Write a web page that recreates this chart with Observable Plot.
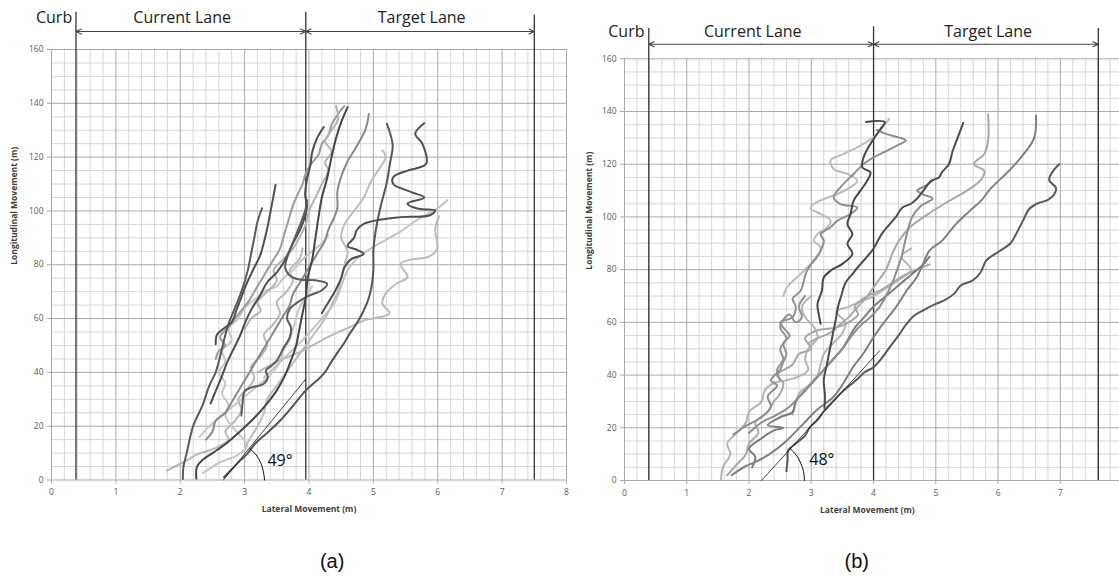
<!DOCTYPE html>
<html><head><meta charset="utf-8">
<script src="https://cdn.jsdelivr.net/npm/d3@7"></script>
<script src="https://cdn.jsdelivr.net/npm/@observablehq/plot@0.6"></script>
<style>
body{margin:0;background:#fff;width:1119px;height:587px;overflow:hidden;font-family:"Open Sans",sans-serif}
#wrap{position:relative;width:1119px;height:587px}
#pa,#pb{position:absolute;top:0}
#pa{left:0}#pb{left:560px}
</style></head><body><div id="wrap"><div id="pa"></div><div id="pb"></div></div>
<script>
// ---------- tick labels ----------
const xTicksA = [0,1,2,3,4,5,6,7,8];
const xTicksB = [0,1,2,3,4,5,6,7];
const yTicks = [0,20,40,60,80,100,120,140,160];
const laneTitles = ["Curb","Current Lane","Target Lane"];
const angleA = "49°", angleB = "48°";
const xTitle = "Lateral Movement (m)", yTitle = "Longitudinal Movement (m)";

// lane boundary positions (m)
const lanesA = [0.38, 3.95, 7.5];
const lanesB = [0.39, 4.0, 7.61];

// ---------- panel (a) trajectories ----------
const a01 = [[2.04,0.4],[2.05,5],[2.1,10],[2.2,20],[2.35,28],[2.45,35],[2.55,40],[2.62,46],[2.68,52],[2.75,58],[2.85,64],[2.95,70],[3.05,78],[3.1,84],[3.15,90],[3.2,96],[3.27,101]];
const a02 = [[2.55,50.5],[2.57,54],[2.66,56],[2.8,58.7],[2.88,63.6],[2.96,68.6],[3.04,73.5],[3.14,78.5],[3.24,83.4],[3.3,88.4],[3.35,93.4],[3.4,99.5],[3.45,105.8],[3.48,109.7]];
const a03 = [[2.25,0.5],[2.26,5],[2.35,7.5],[2.5,10],[2.71,13.5],[2.95,18.5],[3.16,23.3],[3.35,28.5],[3.5,33.3],[3.62,38.5],[3.72,44.4],[3.8,50],[3.85,56],[3.9,62],[3.95,68],[3.98,75],[4.05,82],[4.1,90],[4.15,98],[4.2,105],[4.28,112],[4.35,120],[4.42,127],[4.5,133],[4.6,138.6]];
const a04 = [[2.47,28.4],[2.55,33],[2.65,38.8],[2.73,43.8],[2.83,48.8],[2.93,53.7],[3.01,58.7],[3.11,63.6],[3.24,68.6],[3.35,73.5],[3.5,77.2],[3.61,81],[3.76,88.4],[3.87,93.4],[3.94,98.3],[3.97,102],[3.94,105.8],[3.97,112],[4.02,116.9],[4.05,121.9],[4.12,126.8],[4.23,131.2]];
const a05 = [[2.95,24],[2.97,29],[3.0,33],[3.12,34.5],[3.28,35.5],[3.36,38.2],[3.33,40.7],[3.42,42.5],[3.5,44.4],[3.61,49.3],[3.7,53],[3.72,56.7],[3.66,60],[3.7,63.5],[3.82,66],[4.0,68.5],[4.2,70.5],[4.28,73],[4.1,74.2],[3.85,74.5],[3.7,76],[3.63,79],[3.68,84],[3.78,90],[3.88,96],[3.95,101],[3.97,104]];
const a06 = [[2.4,15],[2.5,18],[2.55,22],[2.7,25],[2.8,29],[2.9,33],[3.0,37],[3.1,41],[3.2,45],[3.3,49],[3.4,53],[3.5,57],[3.6,61],[3.7,65],[3.75,69],[3.85,73],[3.95,77],[4.05,81],[4.15,85],[4.25,89],[4.3,93],[4.38,97],[4.44,101],[4.44,107],[4.49,112],[4.59,118],[4.75,124.4],[4.88,130.5],[4.93,136]];
const a07 = [[2.68,1],[2.8,4],[2.93,7.2],[3.05,10],[3.16,13.4],[3.35,17.5],[3.55,22],[3.75,27.5],[3.95,33.3],[4.1,36.5],[4.23,39.5],[4.35,44],[4.46,48],[4.55,51],[4.63,54.3],[4.75,58.5],[4.85,63],[4.92,67],[4.97,71.7],[5.0,78],[5.0,85.3],[5.02,90],[5.06,95.9],[5.13,103.3],[5.21,110.7],[5.26,118],[5.3,124.4],[5.21,132.4]];
const a08 = [[4.2,62],[4.3,66],[4.4,70],[4.5,75],[4.55,79],[4.65,82],[4.85,84],[4.75,85.5],[4.6,87],[4.7,90],[4.74,92.8],[4.85,95.2],[5.42,97.7],[5.87,98.3],[5.96,100.2],[5.7,100.8],[5.53,102.7],[5.79,105],[5.59,107],[5.31,110],[5.31,112.6],[5.53,115],[5.82,117.5],[5.76,125],[5.65,128.7],[5.79,132.6]];
const a09 = [[3.2,40],[3.5,44],[3.9,48],[4.29,53.1],[4.63,56.8],[4.85,59.3],[5.25,61.9],[5.14,65.6],[5.19,69.3],[5.36,73],[5.53,75.4],[5.42,80.4],[5.6,82],[5.86,83],[5.99,86],[5.96,93.4],[6.02,98]];
const a10 = [[3.3,38],[3.6,45],[3.9,52],[4.2,60],[4.4,66],[4.5,72],[4.6,78],[4.8,83.4],[5.1,88],[5.4,92],[5.7,97],[6.0,101],[6.15,104]];
const a11 = [[3.0,12],[3.1,16],[3.2,20],[3.3,25],[3.35,30],[3.5,35],[3.65,40],[3.8,45],[3.95,50],[4.1,55],[4.25,60],[4.35,65],[4.45,70],[4.5,75],[4.55,80],[4.6,85],[4.5,90],[4.55,95],[4.7,100],[4.85,105],[4.97,111.3],[5.1,116],[5.19,120],[5.14,122.5]];
const a12 = [[1.79,3.5],[2.05,6.6],[2.28,9.7],[2.45,11],[2.6,12.5],[2.75,15],[2.7,18],[2.85,22],[2.95,26],[2.9,30],[3.05,34],[3.15,38],[3.1,42],[3.25,46],[3.35,50],[3.3,54],[3.45,58],[3.55,62],[3.5,66],[3.65,70],[3.75,74],[3.7,78],[3.85,82],[3.9,86]];
const a13 = [[2.35,2.5],[2.62,6.6],[2.88,9.1],[3.04,12.8],[2.95,16],[2.8,20],[2.7,24],[2.75,28],[2.65,32],[2.7,36],[2.6,40],[2.7,44],[2.65,48],[2.8,52],[2.75,56],[2.9,60],[3.0,64],[3.15,67],[3.3,70],[3.5,72],[3.6,75],[3.75,78],[3.9,82],[4.05,85],[4.2,88],[4.3,91]];
const a14 = [[2.55,45],[2.6,48],[2.7,50],[2.62,53],[2.75,57],[2.85,60],[2.95,63],[3.05,66],[3.15,70],[3.25,74],[3.35,78],[3.45,82],[3.55,86],[3.6,90],[3.65,94],[3.7,98],[3.75,102],[3.82,106],[3.9,110],[3.95,114],[4.05,118],[4.15,121],[4.2,125],[4.3,128],[4.35,132],[4.45,136],[4.55,139]];
const a15 = [[3.0,56],[3.1,60],[3.25,63],[3.2,66],[3.35,70],[3.5,74],[3.45,78],[3.6,82],[3.75,86],[3.85,90],[3.95,95],[4.0,100],[4.1,105],[4.2,110],[4.3,115],[4.25,118],[4.35,122],[4.25,126],[4.35,130],[4.45,134],[4.42,139]];
const a16 = [[2.3,16],[2.45,20],[2.6,23],[2.8,27],[3.0,31],[3.2,35],[3.4,39],[3.55,44],[3.6,48],[3.7,52],[3.75,56],[3.8,60],[3.85,64],[3.95,68],[4.05,72]];
const curvesA = [a12,a13,a16,a10,a11,a09,a14,a15,a06,a02,a01,a04,a05,a03,a07,a08];
const shadesA = ["#b8b8b8","#c6c6c6","#c8c8c8","#c4c4c4","#bdbdbd","#bbbbbb","#9c9c9c","#b4b4b4","#8a8a8a","#505050","#5a5a5a","#4d4d4d","#5c5c5c","#454545","#555555","#505050"];

// ---------- panel (b) trajectories ----------
const b01 = [[2.6,3.5],[2.62,8],[2.63,11.5],[2.75,14],[2.9,17],[2.97,20],[3.1,23],[3.21,26.6],[3.35,30],[3.51,34],[3.72,38],[3.85,41],[4.0,43],[4.15,47],[4.26,50.6],[4.4,55],[4.53,59.4],[4.65,62.5],[4.79,64.5],[5.0,67],[5.15,68.5],[5.3,71],[5.4,74],[5.6,76],[5.72,79],[5.81,83.5],[6.02,87],[6.2,90],[6.3,94],[6.4,98.6],[6.5,103],[6.62,105],[6.8,106.5],[6.9,108.5],[6.93,111],[6.82,114],[6.87,117],[6.98,120]];
const b02 = [[3.21,27.5],[3.22,32],[3.2,38],[3.25,44],[3.3,50],[3.35,56],[3.4,62],[3.43,66],[3.48,70],[3.55,75],[3.65,78],[3.75,81],[3.9,85],[4.0,88],[4.13,93.5],[4.25,97],[4.35,99.7],[4.46,103.5],[4.6,105],[4.7,107],[4.8,110],[4.92,113.6],[5.05,115],[5.1,117],[5.21,120],[5.27,125],[5.35,130],[5.44,135.7]];
const b03 = [[3.15,59.5],[3.12,63],[3.1,67],[3.17,72],[3.2,77],[3.31,79.6],[3.5,82.2],[3.66,86],[3.58,89.8],[3.66,93.5],[3.58,97.3],[3.63,101.1],[3.68,106.2],[3.79,110],[3.9,113.8],[3.95,116.9],[3.82,118.8],[3.84,122.6],[3.95,127.7],[4.1,133],[4.18,136],[3.88,136]];
const b04 = [[1.72,2],[1.95,5.5],[2.1,7],[2.33,10],[2.6,15],[2.87,21.5],[3.08,26.6],[3.35,31.6],[3.51,36.7],[3.67,43],[3.83,48],[4.0,54.4],[4.15,59.4],[4.36,65.8],[4.53,72],[4.69,77],[4.79,82],[4.9,87.3],[5.1,91],[5.32,97.2],[5.55,102.4],[5.72,106],[5.89,111],[6.18,117.6],[6.41,123.8],[6.58,130],[6.61,138.5]];
const b05 = [[2.95,52],[3.1,54],[3.3,56],[3.45,59],[3.6,62],[3.75,66],[3.9,70],[4.05,75],[4.2,80],[4.3,86],[4.41,91],[4.58,96],[4.87,101],[5.21,106],[5.5,110],[5.72,114],[5.78,117.4],[5.61,120],[5.78,124],[5.84,129],[5.84,139]];
const b06 = [[2.0,18],[2.2,22],[2.45,25],[2.65,28],[2.85,33],[3.05,38],[3.2,42],[3.35,46],[3.5,50],[3.65,55],[3.8,59],[3.95,62],[4.1,66],[4.2,70],[4.3,75],[4.38,80],[4.45,85],[4.5,90],[4.55,95],[4.62,100],[4.75,104],[4.95,107],[4.8,108.5],[4.7,110],[4.85,112],[4.95,114]];
const b07 = [[1.55,0.5],[1.58,5],[1.7,10],[1.65,14],[1.8,18],[1.95,22],[2.0,26],[2.2,30],[2.25,34],[2.4,37],[2.6,38],[2.8,39.5],[2.95,42],[2.9,46],[2.95,50],[3.1,54],[3.05,58],[2.9,62],[2.85,66],[3.0,70]];
const b08 = [[1.75,17.5],[1.9,20],[2.05,22],[2.2,24],[2.35,28],[2.3,32],[2.45,36],[2.35,38],[2.5,42],[2.55,45],[2.6,48],[2.55,52],[2.65,55],[2.55,58],[2.5,60],[2.7,62],[2.75,66],[2.7,69],[2.83,72],[2.88,75.8],[2.93,79.6],[3.04,83.4],[3.15,87.2],[3.2,91],[3.15,93.5],[3.31,96.1],[3.42,98.6],[3.63,101.1],[3.74,103.6],[3.47,104.9],[3.36,107.4],[3.47,111.3],[3.68,116.3],[3.84,120.1],[4.0,122.6],[4.22,125.2],[4.43,127.7],[4.52,129],[4.4,130.2],[4.2,131.5],[4.05,133]];
const b09 = [[1.65,2],[1.8,6],[1.95,10],[2.0,14],[2.15,18],[2.1,22],[2.3,26],[2.4,30],[2.5,33],[2.55,37],[2.45,40],[2.7,44],[2.8,48],[3.0,50],[2.9,54],[3.1,57],[3.4,58],[3.6,60],[3.75,63],[3.7,66],[3.9,70],[4.1,72],[4.3,75],[4.5,78],[4.7,80],[4.9,82]];
const b10 = [[2.05,5],[2.1,9],[2.0,12],[2.2,16],[2.4,19],[2.55,20],[2.3,21],[2.5,24],[2.7,26],[2.75,30],[2.9,34],[3.05,38],[3.2,42],[3.35,46],[3.5,50],[3.6,54],[3.7,58],[3.85,62],[4.0,66],[4.2,70],[4.4,74],[4.6,78],[4.8,82],[4.9,85]];
const b11 = [[2.7,25],[2.75,29],[2.8,33],[2.95,36],[3.1,40],[3.15,44],[3.2,48],[3.35,52],[3.5,56],[3.55,60],[3.4,64],[3.6,66],[3.8,68],[4.0,70],[4.2,73],[4.4,76],[4.6,80],[4.45,85],[4.6,88]];
const b13 = [[2.5,38],[2.45,42],[2.55,46],[2.5,50],[2.6,54],[2.5,58],[2.55,61],[2.65,63],[2.75,60],[2.85,62],[2.8,66],[2.9,70]];
const b14 = [[2.55,70],[2.61,73.3],[2.83,78.4],[2.99,82.2],[3.1,84.7],[3.15,88.5],[3.04,91],[3.1,93.5],[3.26,96.1],[3.31,98.6],[3.15,101.2],[2.99,103.1],[3.01,104.3],[3.2,106.8],[3.42,108.7],[3.63,111.3],[3.74,113.8],[3.58,116.3],[3.36,118.2],[3.31,121.4],[3.52,123.9],[3.79,127.1],[4.0,130.2],[4.25,137.2]];
const curvesB = [b07,b14,b11,b09,b05,b13,b08,b10,b06,b04,b02,b03,b01];
const shadesB = ["#b4b4b4","#bcbcbc","#b5b5b5","#a8a8a8","#a9a9a9","#939393","#8f8f8f","#7c7c7c","#8e8e8e","#808080","#4d4d4d","#474747","#595959"];

// reference angle lines and arcs
const refA = [[2.67,0],[3.95,37.5]];
const arcA = [[3.31,0],[3.29,3.3],[3.25,6.4],[3.18,9.3],[3.08,11.7]];
const refB = [[2.2,0],[4.1,49.3]];
const arcB = [[2.89,0],[2.876,3.4],[2.83,6.6],[2.76,9.6],[2.66,12.1]];

function rowsOf(curves, shades) {
  return curves.flatMap((pts, i) => pts.map(([x, y]) => ({x, y, id: i, c: shades[i]})));
}

function panel(cfg) {
  const minorX = d3.range(0, Math.floor(cfg.xMax * 5) + 1).map(i => i / 5).filter(v => Math.abs(v - Math.round(v)) > 1e-6);
  const majorX = d3.range(0, Math.floor(cfg.xMax) + 1);
  const minorY = d3.range(0, 161, 5).filter(v => v % 20);
  const L = cfg.lanes;
  const lines = L.map((x, i) => ({x, top: cfg.tops[i]}));
  const mid1 = (L[0] + L[1]) / 2, mid2 = (L[1] + L[2]) / 2;
  const ay = cfg.arrowY;
  const arrows = [
    {x1: mid1, x2: L[0]}, {x1: mid1, x2: L[1]},
    {x1: mid2, x2: L[1]}, {x1: mid2, x2: L[2]}
  ];
  const labels = [
    {x: cfg.textX[0], text: laneTitles[0]},
    {x: cfg.textX[1], text: laneTitles[1]},
    {x: cfg.textX[2], text: laneTitles[2]}
  ];
  const toObj = a => a.map(([x, y]) => ({x, y}));
  return Plot.plot({
    width: cfg.width, height: 587,
    marginLeft: cfg.marginLeft, marginRight: cfg.marginRight,
    marginTop: cfg.marginTop, marginBottom: cfg.marginBottom,
    x: {domain: [0, cfg.xMax]},
    y: {domain: [0, 160]},
    color: {type: "identity"},
    style: {background: "transparent", overflow: "visible", fontFamily: "'Open Sans', sans-serif", fontSize: "8.5px", color: "#595959"},
    marks: [
      Plot.gridX(minorX, {stroke: "#d6d6d6", strokeOpacity: 1}),
      Plot.gridY(minorY, {stroke: "#d6d6d6", strokeOpacity: 1}),
      Plot.gridX(majorX, {stroke: "#a9a9a9", strokeOpacity: 1}),
      Plot.gridY(yTicks, {stroke: "#a9a9a9", strokeOpacity: 1}),
      Plot.axisX(cfg.xTicks, {tickSize: 4, tickPadding: 5, stroke: "#a9a9a9", label: null}),
      Plot.axisY(yTicks, {tickSize: 4, tickPadding: 4, stroke: "#a9a9a9", label: null}),
      Plot.ruleX(lines, {x: "x", y1: 0, y2: "top", stroke: "#333", strokeWidth: 1.3}),
      Plot.arrow(arrows, {x1: "x1", x2: "x2", y1: ay, y2: ay, headLength: 8, headAngle: 50, stroke: "#444", strokeWidth: 1.1}),
      Plot.text(labels, {x: "x", y: cfg.textY, text: "text", fontSize: 16, fill: "#222", lineAnchor: "middle"}),
      Plot.line(rowsOf(cfg.curves, cfg.shades), {x: "x", y: "y", z: "id", stroke: "c", strokeWidth: 2, curve: "catmull-rom"}),
      Plot.line(toObj(cfg.ref), {x: "x", y: "y", stroke: "#111", strokeWidth: 0.8}),
      Plot.line(toObj(cfg.arc), {x: "x", y: "y", stroke: "#111", strokeWidth: 1, curve: "natural"}),
      Plot.text([cfg.angle], {x: cfg.angleX, y: cfg.angleY, text: d => d, fontSize: 16, fill: "#111"}),
      Plot.text([xTitle], {x: cfg.xTitleX, frameAnchor: "bottom", dy: 32, text: d => d, fontWeight: "bold", fontSize: 8.5, fill: "#404040"}),
      Plot.text([yTitle], {frameAnchor: "left", dx: cfg.yTitleDx, rotate: -90, text: d => d, fontWeight: "bold", fontSize: 8.5, fill: "#404040"}),
      Plot.text([cfg.panelLabel], {x: cfg.panelX, frameAnchor: "bottom", dy: 87.5, text: d => d, fontSize: 20, fill: "#111", fontFamily: "'Liberation Sans', Arial, sans-serif"})
    ]
  });
}

document.getElementById("pa").append(panel({
  width: 580, marginLeft: 51, marginRight: 14, marginTop: 49, marginBottom: 107.5,
  xMax: 8, xTicks: xTicksA, lanes: lanesA, tops: [173.8, 173.8, 172.7],
  arrowY: 166.7, textX: [0.04, 2.03, 5.75], textY: 171.6,
  curves: curvesA, shades: shadesA, ref: refA, arc: arcA,
  angle: angleA, angleX: 3.55, angleY: 7, xTitleX: 4.0, yTitleDx: -37,
  panelLabel: "(a)", panelX: 4.36
}));
document.getElementById("pb").append(panel({
  width: 559, marginLeft: 64, marginRight: 0, marginTop: 58.3, marginBottom: 107,
  xMax: 7.95, xTicks: xTicksB, lanes: lanesB, tops: [171.5, 172.2, 171.5],
  arrowY: 165.5, textX: [0.03, 2.06, 5.84], textY: 170.1,
  curves: curvesB, shades: shadesB, ref: refB, arc: arcB,
  angle: angleB, angleX: 3.17, angleY: 7.8, xTitleX: 3.9, yTitleDx: -35,
  panelLabel: "(b)", panelX: 3.73
}));
</script></body></html>
